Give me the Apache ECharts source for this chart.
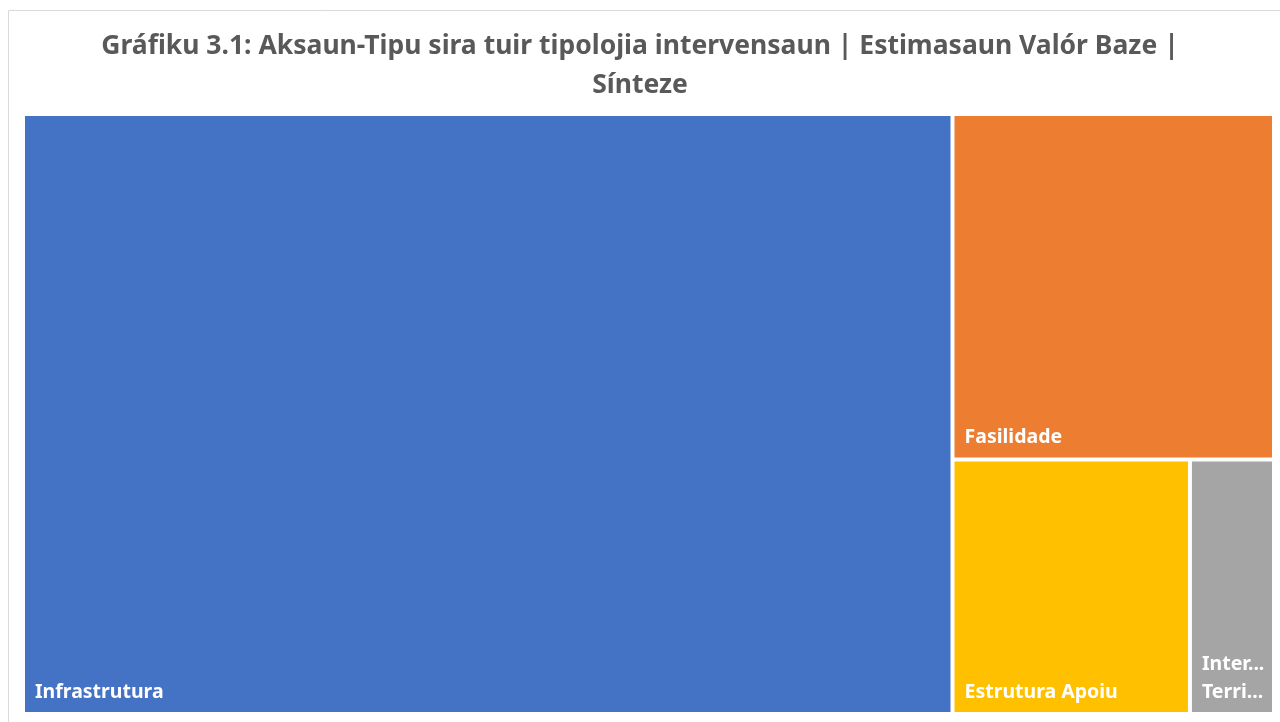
<!DOCTYPE html>
<html>
<head>
<meta charset="utf-8">
<script src="https://cdn.jsdelivr.net/npm/echarts@6/dist/echarts.min.js"></script>
<style>
  html, body { margin: 0; padding: 0; background: #fff; }
  #main { width: 1280px; height: 722px; }
</style>
</head>
<body>
<div id="main"></div>
<script>
// dadus
var kategoria = ['Infrastrutura', 'Fasilidade', 'Estrutura Apoiu', 'Intervensaun Territoriál'];
var valor = [74.3, 14.8, 8.05, 2.85];
var kor = ['#4472C4', '#ED7D31', '#FFC000', '#A5A5A5'];

var myChart = echarts.init(document.getElementById('main'));

var dados = kategoria.map(function (n, i) {
    var item = {
        name: n,
        value: valor[i],
        itemStyle: { color: kor[i] }
    };
    // kaixa kiik: hakerek liafuan ida-ida iha liña ketak
    if (i === 3) {
        item.label = {
            formatter: function (p) { return p.name.split(' ').join('\n'); }
        };
    }
    return item;
});

option = {
    title: {
        text: 'Gráfiku 3.1: Aksaun-Tipu sira tuir tipolojia intervensaun | Estimasaun Valór Baze |\nSínteze',
        left: 'center',
        top: 22,
        textStyle: {
            fontFamily: 'Noto Sans',
            fontSize: 26.5,
            fontWeight: 'bold',
            color: '#595959',
            lineHeight: 39
        }
    },
    graphic: [{
        type: 'rect',
        shape: { x: 8.5, y: 10.5, width: 1290, height: 730 },
        style: { fill: 'none', stroke: '#D9D9D9', lineWidth: 1 },
        silent: true
    }],
    series: [{
        type: 'treemap',
        left: 25,
        top: 116,
        right: 8,
        bottom: 10,
        roam: false,
        nodeClick: false,
        breadcrumb: { show: false },
        animation: false,
        label: {
            show: true,
            position: 'insideBottomLeft',
            distance: 0,
            offset: [5, -1],
            fontFamily: 'Noto Sans',
            fontSize: 19.5,
            fontWeight: 'bold',
            color: '#fff',
            lineHeight: 28,
            overflow: 'truncate',
            ellipsis: '...'
        },
        upperLabel: { show: false },
        itemStyle: { borderWidth: 0, gapWidth: 4 },
        levels: [
            { itemStyle: { borderWidth: 0, gapWidth: 4, borderColor: '#fff' } },
            { itemStyle: { borderWidth: 0, gapWidth: 0 } }
        ],
        data: dados
    }]
};

myChart.setOption(option);
</script>
</body>
</html>
